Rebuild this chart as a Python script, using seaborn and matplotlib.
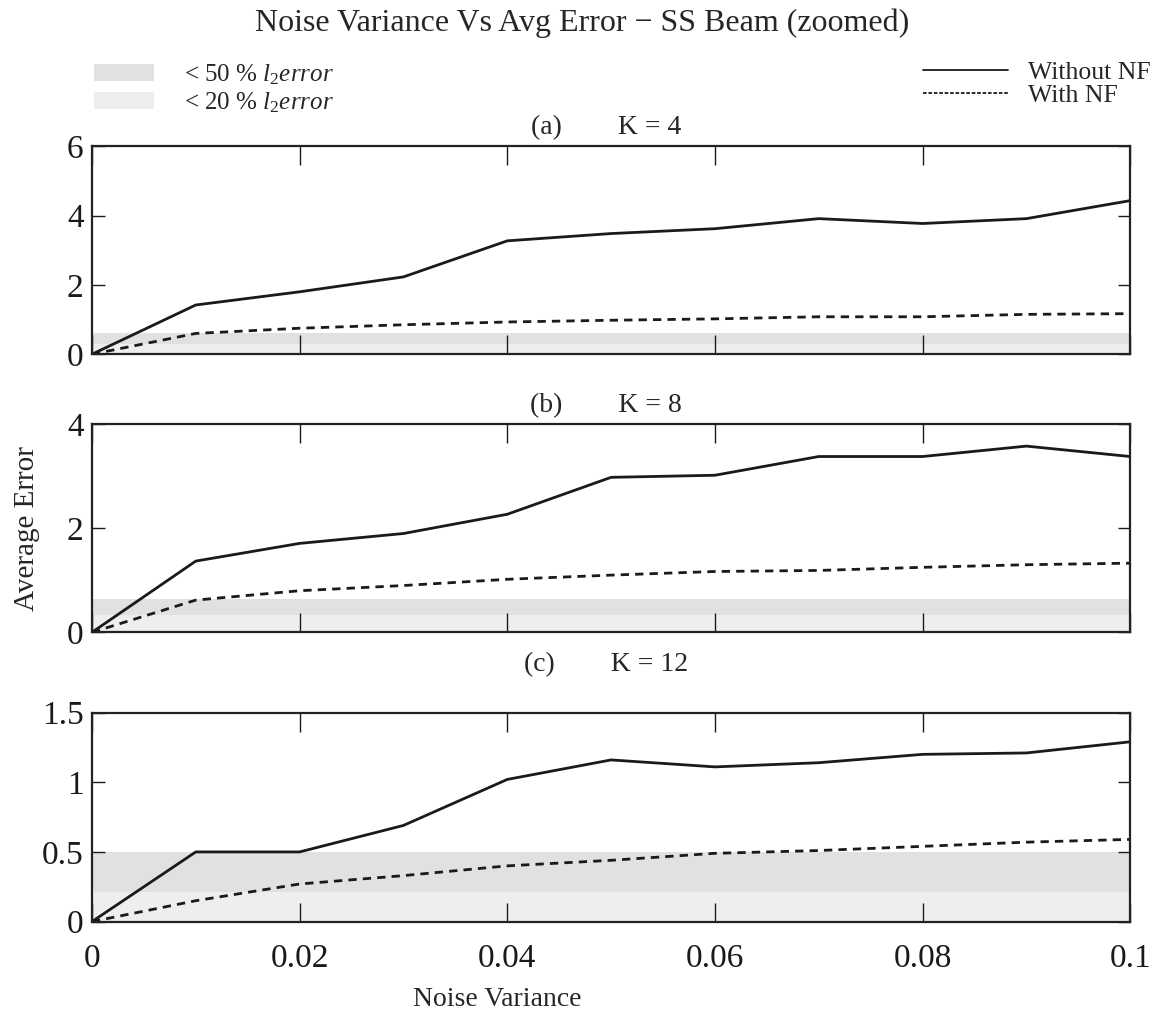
import numpy as np
import pandas as pd
import matplotlib
matplotlib.use("Agg")
import matplotlib.pyplot as plt
import seaborn as sns
from matplotlib.patches import Patch
from matplotlib.lines import Line2D

sns.set_style("ticks")
plt.rcParams['font.family'] = ['Liberation Serif', 'DejaVu Serif']
plt.rcParams['mathtext.fontset'] = 'custom'
plt.rcParams['mathtext.it'] = 'Liberation Serif:italic'
plt.rcParams['mathtext.rm'] = 'Liberation Serif'

# data
noise_var = [0, 0.01, 0.02, 0.03, 0.04, 0.05, 0.06, 0.07, 0.08, 0.09, 0.1]

k4_without = [0, 1.42, 1.80, 2.23, 3.27, 3.48, 3.62, 3.91, 3.77, 3.91, 4.43]
k4_with = [0, 0.60, 0.75, 0.85, 0.93, 0.98, 1.02, 1.08, 1.08, 1.15, 1.17]

k8_without = [0, 1.37, 1.71, 1.90, 2.27, 2.98, 3.02, 3.38, 3.38, 3.58, 3.38]
k8_with = [0, 0.62, 0.80, 0.90, 1.02, 1.10, 1.17, 1.19, 1.25, 1.30, 1.33]

k12_without = [0, 0.50, 0.50, 0.69, 1.02, 1.16, 1.11, 1.14, 1.20, 1.21, 1.29]
k12_with = [0, 0.15, 0.27, 0.33, 0.40, 0.44, 0.49, 0.51, 0.54, 0.57, 0.59]

panel_titles = ["(a)        K = 4", "(b)        K = 8", "(c)        K = 12"]
band_20 = [0.30, 0.33, 0.21]   # < 20 % l2 error
band_50 = [0.60, 0.65, 0.50]   # < 50 % l2 error
y_ticks = [[0, 2, 4, 6], [0, 2, 4], [0, 0.5, 1, 1.5]]
y_ticklabels = [["0", "2", "4", "6"], ["0", "2", "4"], ["0", "0.5", "1", "1.5"]]
x_ticks = [0, 0.02, 0.04, 0.06, 0.08, 0.1]
x_ticklabels = ["0", "0.02", "0.04", "0.06", "0.08", "0.1"]

series = [(k4_without, k4_with), (k8_without, k8_with), (k12_without, k12_with)]

dark_band = "#e0e1e3"
light_band = "#eeeeee"

fig = plt.figure(figsize=(11.64, 10.15), dpi=100)
boxes = [(0.079, 0.651, 0.892, 0.205),
         (0.079, 0.377, 0.892, 0.205),
         (0.079, 0.092, 0.892, 0.206)]
title_pads = [9, 9, 30]

for i, box in enumerate(boxes):
    ax = fig.add_axes(box)
    without, with_nf = series[i]
    df = pd.DataFrame({"x": noise_var, "without": without, "with": with_nf})
    ax.axhspan(0, band_20[i], color=light_band, lw=0, zorder=0)
    ax.axhspan(band_20[i], band_50[i], color=dark_band, lw=0, zorder=0)
    sns.lineplot(data=df, x="x", y="without", ax=ax, color="#1a1a1a", lw=2)
    sns.lineplot(data=df, x="x", y="with", ax=ax, color="#1a1a1a", lw=2,
                 linestyle=(0, (3, 2.2)))
    ax.set_xlim(0, 0.1)
    ax.set_ylim(y_ticks[i][0], y_ticks[i][-1])
    ax.set_xticks(x_ticks)
    ax.set_yticks(y_ticks[i])
    ax.set_yticklabels(y_ticklabels[i])
    if i == 2:
        ax.set_xticklabels(x_ticklabels)
        ax.set_xlabel("Noise Variance", fontsize=20)
        ax.xaxis.set_label_coords(0.39, -0.315)
    else:
        ax.set_xticklabels([])
        ax.set_xlabel("")
    if i == 1:
        ax.set_ylabel("Average Error", fontsize=21)
        ax.yaxis.set_label_coords(-0.05, 0.5)
    else:
        ax.set_ylabel("")
    ax.tick_params(direction="in", width=1, top=True, right=True,
                   labelsize=24, colors="#1a1a1a")
    ax.tick_params(axis="x", length=14, pad=16)
    ax.tick_params(axis="y", length=9, pad=6)
    for s in ax.spines.values():
        s.set_linewidth(1.6)
        s.set_color("#222222")
    ax.set_title(panel_titles[i], fontsize=20, pad=title_pads[i], x=0.495)

fig.suptitle("Noise Variance Vs Avg Error \u2212 SS Beam (zoomed)", fontsize=23, y=0.992)

band_handles = [Patch(facecolor=dark_band, edgecolor="none"),
                Patch(facecolor=light_band, edgecolor="none")]
band_labels = [r"< 50 % $l_2 error$", r"< 20 % $l_2 error$"]
fig.legend(band_handles, band_labels, loc="upper left", bbox_to_anchor=(0.061, 0.961),
           frameon=False, fontsize=18, handlelength=2.4, handleheight=0.7,
           handletextpad=1.2, labelspacing=0.15)

line_handles = [Line2D([], [], color="#1a1a1a", lw=1.3),
                Line2D([], [], color="#1a1a1a", lw=1.3, linestyle=(0, (2, 1)))]
fig.legend(line_handles, ["Without NF", "With NF"], loc="upper right",
           bbox_to_anchor=(1.008, 0.963), frameon=False, fontsize=18.5,
           handlelength=3.3, handletextpad=0.75, labelspacing=0.02)

fig.savefig("out.png", dpi=100)
